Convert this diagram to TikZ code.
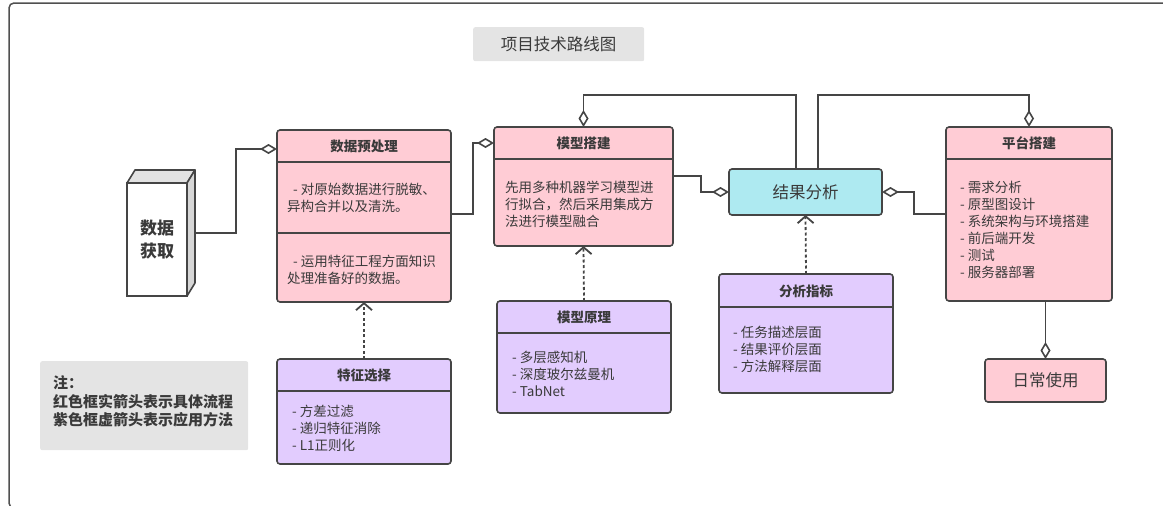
\documentclass[tikz,border=0pt]{standalone}
\usepackage{fontspec}
\setmainfont{Noto Sans CJK SC}
\usetikzlibrary{arrows.meta,calc}
\definecolor{pinkf}{HTML}{FFCCD5}
\definecolor{lavf}{HTML}{E2CCFE}
\definecolor{cyanf}{HTML}{AEEAF1}
\definecolor{grayf}{HTML}{E4E4E4}
\definecolor{edge}{HTML}{454545}
\definecolor{txt}{HTML}{3A3A3A}
\definecolor{topc}{HTML}{E2E2E2}
\definecolor{sidec}{HTML}{D6D6D6}
\definecolor{framec}{HTML}{505050}
\tikzset{
  box/.style={draw=edge, line width=1.6pt, rounded corners=3pt, anchor=north west, inner sep=0pt, outer sep=0pt},
  redbox/.style={box, fill=pinkf},
  purbox/.style={box, fill=lavf},
  sepline/.style={draw=edge, line width=1.6pt},
  ttl/.style={font=\bfseries\fontsize{13.5}{16}\selectfont, text=txt, inner sep=0pt},
  body/.style={font=\fontsize{13.5}{17}\selectfont, text=txt, align=left, anchor=west, inner sep=0pt},
  agg/.style={draw=edge, line width=1.6pt, -{Diamond[open,length=17pt,width=10pt]}},
  dep/.style={draw=edge, line width=1.8pt, dash pattern=on 3pt off 2.5pt, -{Straight Barb[length=7pt,width=16pt]}},
}
\begin{document}
\begin{tikzpicture}[x=1pt,y=-1pt]
\useasboundingbox (0,0) rectangle (1163,506);
\begin{scope}
  \clip (0,0) rectangle (1163,506);
  \draw[line width=1.5pt, draw=framec, rounded corners=5pt] (9,3) rectangle (1190,508);
\end{scope}

% title
\node[fill=grayf, rounded corners=2pt, anchor=north west, minimum width=171pt, minimum height=34pt, inner sep=0pt,
      font=\fontsize{16.5}{19}\selectfont, text=txt] (title) at (473,27) {项目技术路线图};

% data acquisition 3D box
\node[box, rounded corners=0pt, fill=white, minimum width=60pt, minimum height=113pt, align=center,
      font=\bfseries\fontsize{17}{23.5}\selectfont, text=txt] (dat) at (127,183) {数据\\获取};
\draw[draw=edge, line width=1.6pt, fill=topc, line join=round] (dat.north west) -- ++(8,-13) -- ++(60,0) -- (dat.north east) -- cycle;
\draw[draw=edge, line width=1.6pt, fill=sidec, line join=round] (dat.north east) -- ++(8,-13) -- ++(0,113) -- (dat.south east) -- cycle;

% data preprocessing
\node[redbox, minimum width=174pt, minimum height=172pt] (pre) at (277,130) {};
\draw[sepline] (pre.west |- 0,162) -- (pre.east |- 0,162);
\draw[sepline] (pre.west |- 0,233) -- (pre.east |- 0,233);
\node[ttl] (preT) at (pre.north |- 0,146) {数据预处理};
\node[body] (preA) at (287,197.5) {\hspace{6pt}- 对原始数据进行脱敏、\\异构合并以及清洗。};
\node[body] (preB) at (287,269.5) {\hspace{6pt}- 运用特征工程方面知识\\处理准备好的数据。};

% model building
\node[redbox, minimum width=179pt, minimum height=119pt] (mod) at (494,127) {};
\draw[sepline] (mod.west |- 0,159) -- (mod.east |- 0,159);
\node[ttl] (modT) at (mod.north |- 0,143.5) {模型搭建};
\node[body] (modA) at (505,204.5) {先用多种机器学习模型进\\行拟合，然后采用集成方\\法进行模型融合};

% result analysis
\node[box, fill=cyanf, minimum width=153pt, minimum height=46pt, font=\fontsize{16.5}{19}\selectfont, text=txt] (res) at (729,169) {结果分析};

% platform
\node[redbox, minimum width=166pt, minimum height=174pt] (plat) at (946,127) {};
\draw[sepline] (plat.west |- 0,159) -- (plat.east |- 0,159);
\node[ttl] (platT) at (plat.north |- 0,143.5) {平台搭建};
\node[body] (platA) at (960,230) {- 需求分析\\- 原型图设计\\- 系统架构与环境搭建\\- 前后端开发\\- 测试\\- 服务器部署};

% daily use
\node[box, fill=pinkf, minimum width=121pt, minimum height=43pt, font=\fontsize{16.5}{19}\selectfont, text=txt] (dail) at (985,359) {日常使用};

% feature selection
\node[purbox, minimum width=174pt, minimum height=105pt] (fs) at (277,359) {};
\draw[sepline] (fs.west |- 0,391) -- (fs.east |- 0,391);
\node[ttl] (fsT) at (fs.north |- 0,375) {特征选择};
\node[body] (fsA) at (292,428) {- 方差过滤\\- 递归特征消除\\- L1正则化};

% model principles
\node[purbox, minimum width=174pt, minimum height=112pt] (mp) at (497,301) {};
\draw[sepline] (mp.west |- 0,333) -- (mp.east |- 0,333);
\node[ttl] (mpT) at (mp.north |- 0,317) {模型原理};
\node[body] (mpA) at (512,373.5) {- 多层感知机\\- 深度玻尔兹曼机\\- TabNet};

% analysis indicators
\node[purbox, minimum width=174pt, minimum height=119pt] (ai) at (719,274) {};
\draw[sepline] (ai.west |- 0,307) -- (ai.east |- 0,307);
\node[ttl] (aiT) at (ai.north |- 0,291) {分析指标};
\node[body] (aiA) at (733,349.5) {- 任务描述层面\\- 结果评价层面\\- 方法解释层面};

% note
\node[fill=grayf, rounded corners=2pt, anchor=north west, minimum width=208pt, minimum height=89pt, inner sep=0pt] (note) at (40,361) {};
\node[anchor=west, align=left, inner sep=0pt, font=\bfseries\fontsize{15}{18.5}\selectfont, text=txt] (noteT) at (53,401.5) {注：\\红色框实箭头表示具体流程\\紫色框虚箭头表示应用方法};

% connectors
\draw[agg] ([xshift=8pt,yshift=6.5pt]dat.east) -- ++(41,0) |- ([yshift=-19pt]pre.north west);
\draw[agg] ([yshift=2pt]pre.east) -- ++(22,0) |- ([yshift=-16pt]mod.north west);
\draw[agg] ([yshift=10.5pt]mod.east) -- ++(28,0) |- (res.west);
\draw[agg] ([xshift=-9.5pt]res.north) -- ++(0,-74) -| (mod.north);
\draw[agg] ([xshift=12.5pt]res.north) -- ++(0,-74) -| (plat.north);
\draw[agg] (plat.west) -- ++(-32,0) |- (res.east);
\draw[agg] (dail.north |- plat.south) -- (dail.north);

\draw[dep] (fs.north) -- (pre.south);
\draw[dep] (mp.north) -- (mod.south);
\draw[dep] (ai.north) -- (res.south);
\end{tikzpicture}
\end{document}
